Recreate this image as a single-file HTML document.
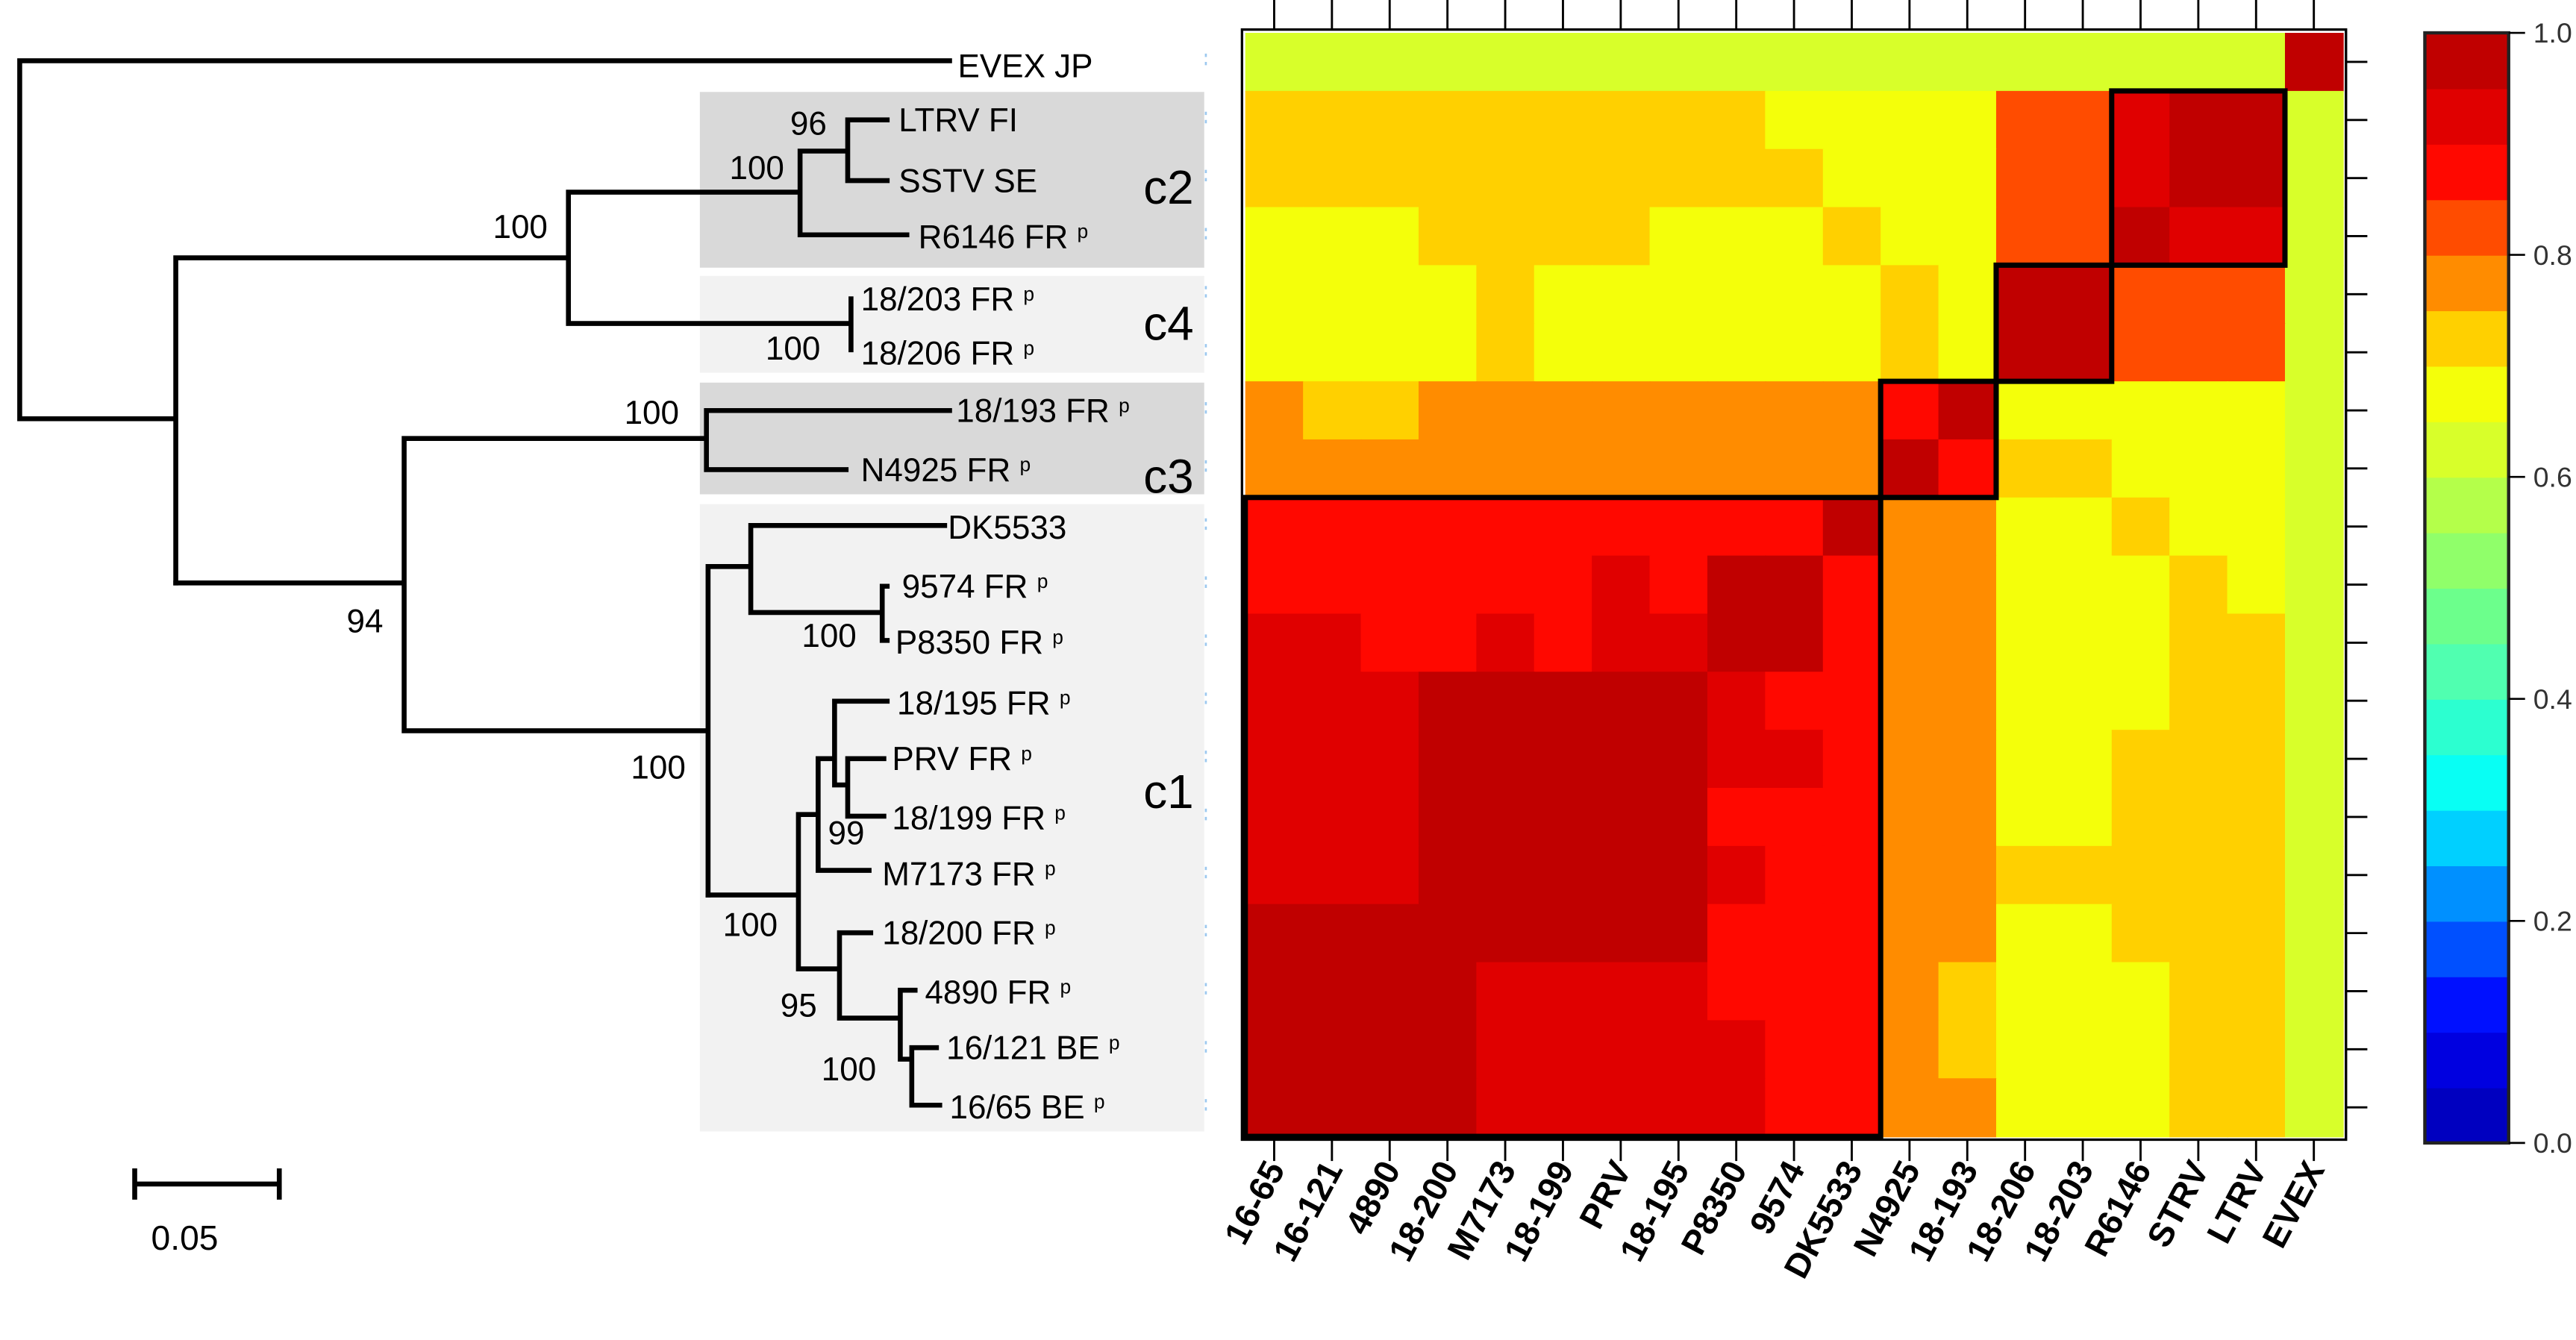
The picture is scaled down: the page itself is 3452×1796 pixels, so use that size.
<!DOCTYPE html>
<html><head><meta charset="utf-8"><style>
html,body{margin:0;padding:0;background:#fff;}
svg{display:block;}
text{font-family:"Liberation Sans",sans-serif;}
</style></head><body>
<svg id="chart" width="3452" height="1796" viewBox="0 0 1568 816" preserveAspectRatio="none" xmlns="http://www.w3.org/2000/svg">
<g>
<rect x="426" y="56" width="307" height="107" fill="#d9d9d9"/>
<rect x="426" y="168" width="307" height="59" fill="#f2f2f2"/>
<rect x="426" y="233" width="307" height="68" fill="#d9d9d9"/>
<rect x="426" y="307" width="307" height="382" fill="#f2f2f2"/>
</g>
<g stroke="#000" stroke-width="3" fill="none" stroke-linecap="square">
<path d="M12,37V255M12,37H578M12,255H107M107,157V355M107,157H346M346,117V197M346,117H487M487,92V143M487,92H516M516,73V110M516,73H540M516,110H540M487,143H552M346,197H518M518,182V213"/>
<path d="M107,355H246M246,267V445M246,267H430M430,250V286M430,250H578M430,286H515M246,445H431M431,345V545M431,345H457M457,320V373M457,320H575M457,373H537M537,357V390M537,357H540M537,390H540"/>
<path d="M431,545H486M486,496V590M486,496H498M498,462V530M498,462H508M508,427V478M508,427H540M508,478H516M516,462V497M516,462H538M516,497H538M498,530H529M486,590H511M511,568V620M511,568H530M511,620H548M548,603V645M548,603H557M548,645H555M555,638V673M555,638H570M555,673H572"/>
<path d="M82,721H170M82,713V729M170,713V729"/>
</g>
<g font-size="20" fill="#000">
<text x="583" y="47">EVEX JP</text>
<text x="547" y="80">LTRV FI</text>
<text x="547" y="117">SSTV SE</text>
<text x="559" y="151">R6146 FR <tspan font-size="12" dy="-6">p</tspan></text>
<text x="524" y="189">18/203 FR <tspan font-size="12" dy="-6">p</tspan></text>
<text x="524" y="222">18/206 FR <tspan font-size="12" dy="-6">p</tspan></text>
<text x="582" y="257">18/193 FR <tspan font-size="12" dy="-6">p</tspan></text>
<text x="524" y="293">N4925 FR <tspan font-size="12" dy="-6">p</tspan></text>
<text x="577" y="328">DK5533</text>
<text x="549" y="364">9574 FR <tspan font-size="12" dy="-6">p</tspan></text>
<text x="545" y="398">P8350 FR <tspan font-size="12" dy="-6">p</tspan></text>
<text x="546" y="435">18/195 FR <tspan font-size="12" dy="-6">p</tspan></text>
<text x="543" y="469">PRV FR <tspan font-size="12" dy="-6">p</tspan></text>
<text x="543" y="505">18/199 FR  <tspan font-size="12" dy="-6">p</tspan></text>
<text x="537" y="539">M7173 FR <tspan font-size="12" dy="-6">p</tspan></text>
<text x="537" y="575">18/200 FR <tspan font-size="12" dy="-6">p</tspan></text>
<text x="563" y="611">4890 FR <tspan font-size="12" dy="-6">p</tspan></text>
<text x="576" y="645">16/121 BE <tspan font-size="12" dy="-6">p</tspan></text>
<text x="578" y="681">16/65 BE <tspan font-size="12" dy="-6">p</tspan></text>
</g>
<g font-size="20" fill="#000">
<text x="481" y="82">96</text>
<text x="444" y="109">100</text>
<text x="300" y="145">100</text>
<text x="466" y="219">100</text>
<text x="380" y="258">100</text>
<text x="211" y="385">94</text>
<text x="488" y="394">100</text>
<text x="384" y="474">100</text>
<text x="504" y="514">99</text>
<text x="440" y="570">100</text>
<text x="475" y="619">95</text>
<text x="500" y="658">100</text>
</g>
<g font-size="29" fill="#000">
<text x="696" y="124">c2</text>
<text x="696" y="207">c4</text>
<text x="696" y="300">c3</text>
<text x="696" y="492">c1</text>
</g>
<text x="92" y="761" font-size="21">0.05</text>
<g id="heat"></g>
<g id="cbar"></g>
</svg>
<script>
const rowLabels=["EVEX","LTRV","STRV","R6146","18-203","18-206","18-193","N4925","DK5533","9574","P8350","18-195","PRV","18-199","M7173","18-200","4890","16-121","16-65"];
const colLabels=["16-65","16-121","4890","18-200","M7173","18-199","PRV","18-195","P8350","9574","DK5533","N4925","18-193","18-206","18-203","R6146","STRV","LTRV","EVEX"];
const D=.97,R=.92,B=.87,O=.82,A=.77,G=.72,Y=.67,L=.62;
const v00=[L,L,L,L,L,L,L,L,L,L,L,L,L,L,L,L,L,L,D];
const v01=[G,G,G,G,G,G,G,G,G,Y,Y,Y,Y,O,O,R,D,D,L];
const v02=[G,G,G,G,G,G,G,G,G,G,Y,Y,Y,O,O,R,D,D,L];
const v03=[Y,Y,Y,G,G,G,G,Y,Y,Y,G,Y,Y,O,O,D,R,R,L];
const v04=[Y,Y,Y,Y,G,Y,Y,Y,Y,Y,Y,G,Y,D,D,O,O,O,L];
const v05=[Y,Y,Y,Y,G,Y,Y,Y,Y,Y,Y,G,Y,D,D,O,O,O,L];
const v06=[A,G,G,A,A,A,A,A,A,A,A,B,D,Y,Y,Y,Y,Y,L];
const v07=[A,A,A,A,A,A,A,A,A,A,A,D,B,G,G,Y,Y,Y,L];
const v08=[B,B,B,B,B,B,B,B,B,B,D,A,A,Y,Y,G,Y,Y,L];
const v09=[B,B,B,B,B,B,R,B,D,D,B,A,A,Y,Y,Y,G,Y,L];
const v10=[R,R,B,B,R,B,R,R,D,D,B,A,A,Y,Y,Y,G,G,L];
const v11=[R,R,R,D,D,D,D,D,R,B,B,A,A,Y,Y,Y,G,G,L];
const v12=[R,R,R,D,D,D,D,D,R,R,B,A,A,Y,Y,G,G,G,L];
const v13=[R,R,R,D,D,D,D,D,B,B,B,A,A,Y,Y,G,G,G,L];
const v14=[R,R,R,D,D,D,D,D,R,B,B,A,A,G,G,G,G,G,L];
const v15=[D,D,D,D,D,D,D,D,B,B,B,A,A,Y,Y,G,G,G,L];
const v16=[D,D,D,D,R,R,R,R,B,B,B,A,G,Y,Y,Y,G,G,L];
const v17=[D,D,D,D,R,R,R,R,R,B,B,A,G,Y,Y,Y,G,G,L];
const v18=[D,D,D,D,R,R,R,R,R,B,B,A,A,Y,Y,Y,G,G,L];
const values=[v00,v01,v02,v03,v04,v05,v06,v07,v08,v09,v10,v11,v12,v13,v14,v15,v16,v17,v18];
const cbarTicks=[0,0.2,0.4,0.6,0.8,1.0];
const palette=["#0000c0","#0000e0","#0010ff","#0050ff","#0090ff","#00d0ff","#08fff4","#2cffd0","#50ffb0","#6cff8c","#90ff6a","#b4ff4a","#d8ff2a","#f4ff0a","#ffd000","#ff8c00","#ff4c00","#ff0800","#e00000","#c00000"];
const NS="http://www.w3.org/2000/svg";
const hx0=758,hx1=1426,hy0=20,hy1=692;
const n=colLabels.length,m=rowLabels.length;
const cw=(hx1-hx0)/n,ch=(hy1-hy0)/m;
const xPos=i=>hx0+i*cw, yPos=j=>hy0+j*ch;
const color=v=>palette[Math.max(0,Math.min(19,Math.floor(v/0.05)))];
function mk(tag,attrs,parent){const e=document.createElementNS(NS,tag);for(const k in attrs)e.setAttribute(k,attrs[k]);parent.appendChild(e);return e;}
const heat=document.getElementById('heat');
values.forEach((row,j)=>row.forEach((v,i)=>{
  const r=mk('rect',{x:xPos(i),y:yPos(j),width:cw+0.6,height:ch+0.6,fill:color(v)},heat);
  
  
}));
const fr=mk('rect',{x:756,y:18,width:672,height:676,fill:'none',stroke:'#000','stroke-width':1.5},heat);


const boxes=[[8,18,0,10],[6,7,11,12],[4,5,13,14],[1,3,15,17]];
boxes.forEach(b=>{
  const r=mk('rect',{x:xPos(b[2]),y:yPos(b[0]),width:xPos(b[3]+1)-xPos(b[2]),height:yPos(b[1]+1)-yPos(b[0]),fill:'none',stroke:'#000','stroke-width':3.2},heat);
  
  
});
colLabels.forEach((lab,i)=>{
  const cx=xPos(i)+cw/2;
  const t1=mk('line',{x1:cx,y1:0,x2:cx,y2:18,stroke:'#000','stroke-width':1.3},heat);
  
  
  const t2=mk('line',{x1:cx,y1:694,x2:cx,y2:707,stroke:'#000','stroke-width':1.3},heat);
  
  
  const t=mk('text',{x:0,y:0,'font-size':21,'font-weight':'bold','text-anchor':'end',transform:`translate(${cx+7},${712}) rotate(-62)`},heat);
  t.textContent=lab;
  
  
});
rowLabels.forEach((lab,j)=>{
  const cy=yPos(j)+ch/2;
  const t=mk('line',{x1:1428,y1:cy,x2:1441,y2:cy,stroke:'#000','stroke-width':1.3},heat);
  
  
  const d=mk('line',{x1:734,y1:cy-5,x2:734,y2:cy+5,stroke:'#9cc8ef','stroke-width':1.2,'stroke-dasharray':'2 3'},heat);
  
  
});
const cb=document.getElementById('cbar');
const bx0=1476,bx1=1527,by0=20,by1=696;
const cy=v=>by1-(by1-by0)*v;
palette.forEach((c,k)=>{
  const r=mk('rect',{x:bx0,y:cy((k+1)*0.05),width:bx1-bx0,height:cy(k*0.05)-cy((k+1)*0.05)+0.5,fill:c},cb);
  
  
});
const cf=mk('rect',{x:bx0,y:by0,width:bx1-bx0,height:by1-by0,fill:'none',stroke:'#222','stroke-width':2},cb);


cbarTicks.forEach(v=>{
  const l=mk('line',{x1:bx1,y1:cy(v),x2:bx1+10,y2:cy(v),stroke:'#000','stroke-width':1.2},cb);
  
  
  const t=mk('text',{x:bx1+15,y:cy(v)+6,'font-size':17,fill:'#333'},cb);
  t.textContent=v.toFixed(1);
  
  
});
</script>
</body></html>
